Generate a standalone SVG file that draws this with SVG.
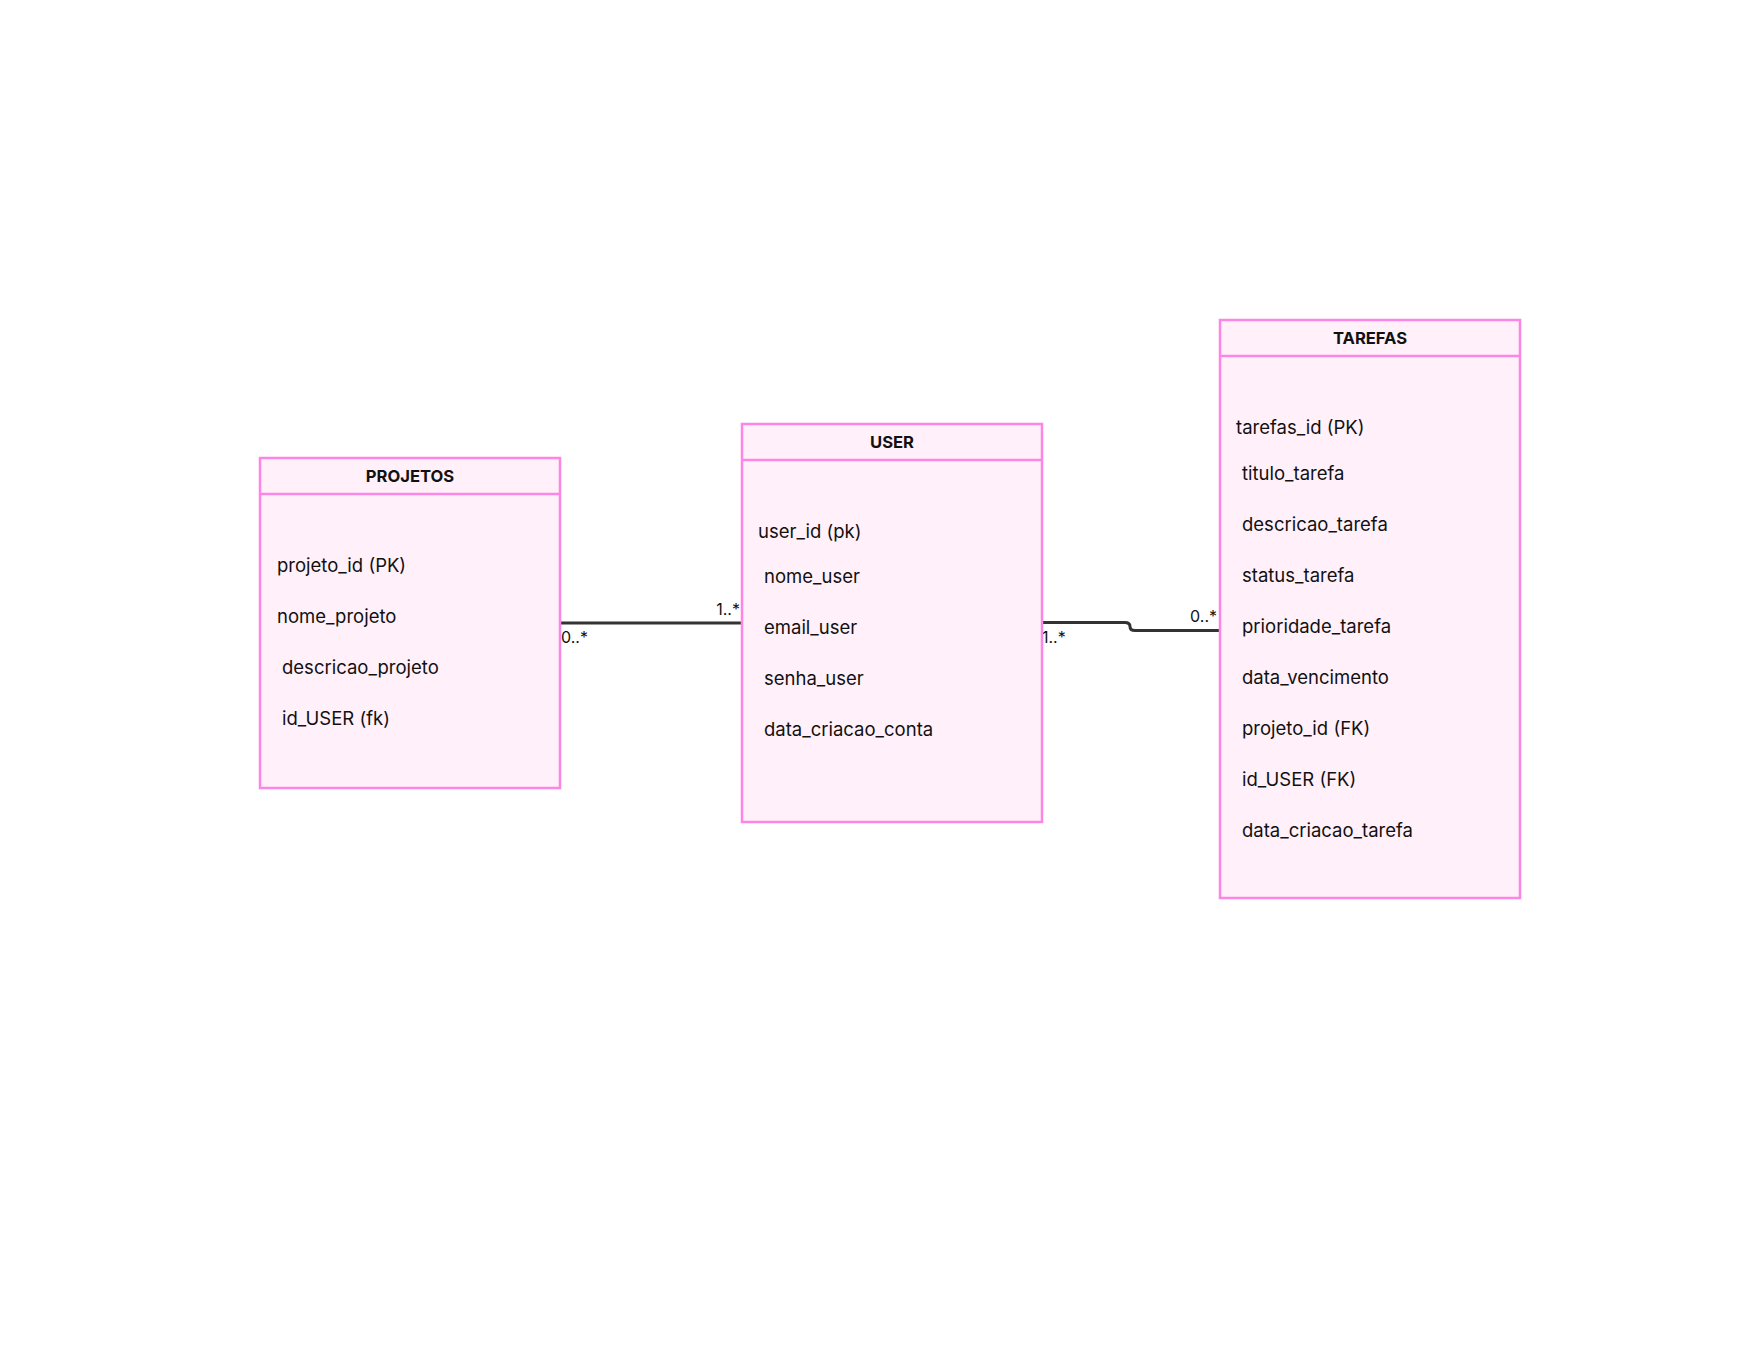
<svg xmlns="http://www.w3.org/2000/svg" width="1760" height="1360" viewBox="0 0 1760 1360">
<style>
.box{fill:#fff0fa;stroke:#fb86e6;stroke-width:2.5}
.title{font-family:Inter,"Liberation Sans",sans-serif;font-size:16.6px;font-weight:700;fill:#111;text-anchor:middle}
.attr{font-family:Inter,"Liberation Sans",sans-serif;font-size:18.5px;fill:#111}
.lbl{font-family:Inter,"Liberation Sans",sans-serif;font-size:16px;fill:#111}
.conn{fill:none;stroke:#333;stroke-width:3}
</style>
<rect width="1760" height="1360" fill="#ffffff"/>
<g id="connectors">
<path class="conn" d="M561,623 H741"/>
<path class="conn" d="M1043,622.5 H1125 Q1130,622.5 1130,626.5 Q1130,630.5 1135,630.5 H1219"/>
<text class="lbl" x="740" y="615" text-anchor="end">1..*</text>
<text class="lbl" x="561" y="643">0..*</text>
<text class="lbl" x="1042" y="643">1..*</text>
<text class="lbl" x="1217" y="622" text-anchor="end">0..*</text>
</g>
<g id="projetos">
<rect class="box" x="260" y="458" width="300" height="330"/>
<line x1="260" y1="494" x2="560" y2="494" stroke="#fb86e6" stroke-width="2.5"/>
<text class="title" x="410" y="482">PROJETOS</text>
<text class="attr" x="277" y="572">projeto_id (PK)</text>
<text class="attr" x="277" y="623">nome_projeto</text>
<text class="attr" x="282" y="674">descricao_projeto</text>
<text class="attr" x="282" y="725">id_USER (fk)</text>
</g>
<g id="user">
<rect class="box" x="742" y="424" width="300" height="398"/>
<line x1="742" y1="460" x2="1042" y2="460" stroke="#fb86e6" stroke-width="2.5"/>
<text class="title" x="892" y="448">USER</text>
<text class="attr" x="758" y="538">user_id (pk)</text>
<text class="attr" x="764" y="583">nome_user</text>
<text class="attr" x="764" y="634">email_user</text>
<text class="attr" x="764" y="685">senha_user</text>
<text class="attr" x="764" y="736">data_criacao_conta</text>
</g>
<g id="tarefas">
<rect class="box" x="1220" y="320" width="300" height="578"/>
<line x1="1220" y1="356" x2="1520" y2="356" stroke="#fb86e6" stroke-width="2.5"/>
<text class="title" x="1370" y="344">TAREFAS</text>
<text class="attr" x="1236" y="434">tarefas_id (PK)</text>
<text class="attr" x="1242" y="480">titulo_tarefa</text>
<text class="attr" x="1242" y="531">descricao_tarefa</text>
<text class="attr" x="1242" y="582">status_tarefa</text>
<text class="attr" x="1242" y="633">prioridade_tarefa</text>
<text class="attr" x="1242" y="684">data_vencimento</text>
<text class="attr" x="1242" y="735">projeto_id (FK)</text>
<text class="attr" x="1242" y="786">id_USER (FK)</text>
<text class="attr" x="1242" y="837">data_criacao_tarefa</text>
</g>
</svg>
